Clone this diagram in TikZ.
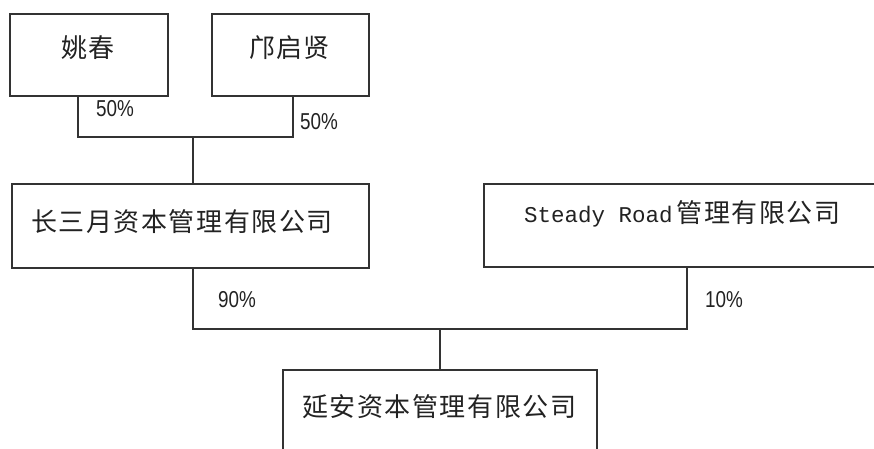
\documentclass[tikz,border=0pt]{standalone}
\usepackage{fontspec}
\newfontfamily\cjkA[LetterSpace=6]{Noto Sans CJK SC}
\newfontfamily\cjkB[LetterSpace=4]{Noto Sans CJK SC}
\newfontfamily\cjkC[LetterSpace=6]{Noto Sans CJK SC}
\newfontfamily\pctfont[FakeStretch=0.82]{Liberation Sans}
\newfontfamily\monofont{Liberation Mono}
\definecolor{linec}{HTML}{333333}
\definecolor{textc}{HTML}{222222}
\tikzset{
  box/.style={draw=linec, line width=1.5pt, rectangle, inner sep=0pt},
  conn/.style={draw=linec, line width=1.3pt},
  cjkbig/.style={inner sep=0pt, anchor=west, text=textc, font=\cjkA\fontsize{26}{28}\selectfont},
  cjksmall/.style={inner sep=0pt, anchor=west, text=textc, font=\cjkB\fontsize{26}{28}\selectfont},
  pct/.style={inner sep=0pt, text=textc, font=\pctfont\fontsize{23}{25}\selectfont},
}
\begin{document}
\begin{tikzpicture}[x=1pt, y=-1pt]
\useasboundingbox (0,0) rectangle (874,448);
\clip (0,0) rectangle (874,448);
% boxes
\node[box, minimum width=158pt, minimum height=82pt] (yao) at (89,55) {};
\node[box, minimum width=157pt, minimum height=82pt] (kuang) at (290.5,55) {};
\node[box, minimum width=357pt, minimum height=84pt] (csy) at (190.5,226) {};
\node[box, minimum width=416pt, minimum height=83pt] (steady) at (692,225.5) {};
\node[box, minimum width=314pt, minimum height=100pt] (yanan) at (440,420) {};
% texts
\node[cjksmall] (tyao) at (61,48) {姚春};
\node[cjksmall] (tkuang) at (249,48) {邝启贤};
\node[cjkbig] (tcsy) at (31,222) {长三月资本管理有限公司};
\node[inner sep=0pt, anchor=west, text=textc] (tsteady) at (524,214)
  {{\monofont\fontsize{22.5}{25}\selectfont Steady Road}\hspace{4pt}{\cjkC\fontsize{26}{28}\selectfont 管理有限公司}};
\node[cjkbig] (tyanan) at (302,407) {延安资本管理有限公司};
% junctions
\coordinate (j1) at (193,137);
\coordinate (j2) at (440,329);
% connectors
\draw[conn] ([xshift=-11pt]yao.south) |- (j1) -| ([xshift=2.5pt]kuang.south);
\draw[conn] (j1) -- (j1 |- csy.north);
\draw[conn] ([xshift=2.5pt]csy.south) |- (j2) -| ([xshift=-5pt]steady.south);
\draw[conn] (j2) -- (yanan.north);
% percentages
\node[pct] (p1) at (115,109) {50\%};
\node[pct] (p2) at (319,122) {50\%};
\node[pct] (p3) at (237,300) {90\%};
\node[pct] (p4) at (724,300) {10\%};
\end{tikzpicture}
\end{document}
